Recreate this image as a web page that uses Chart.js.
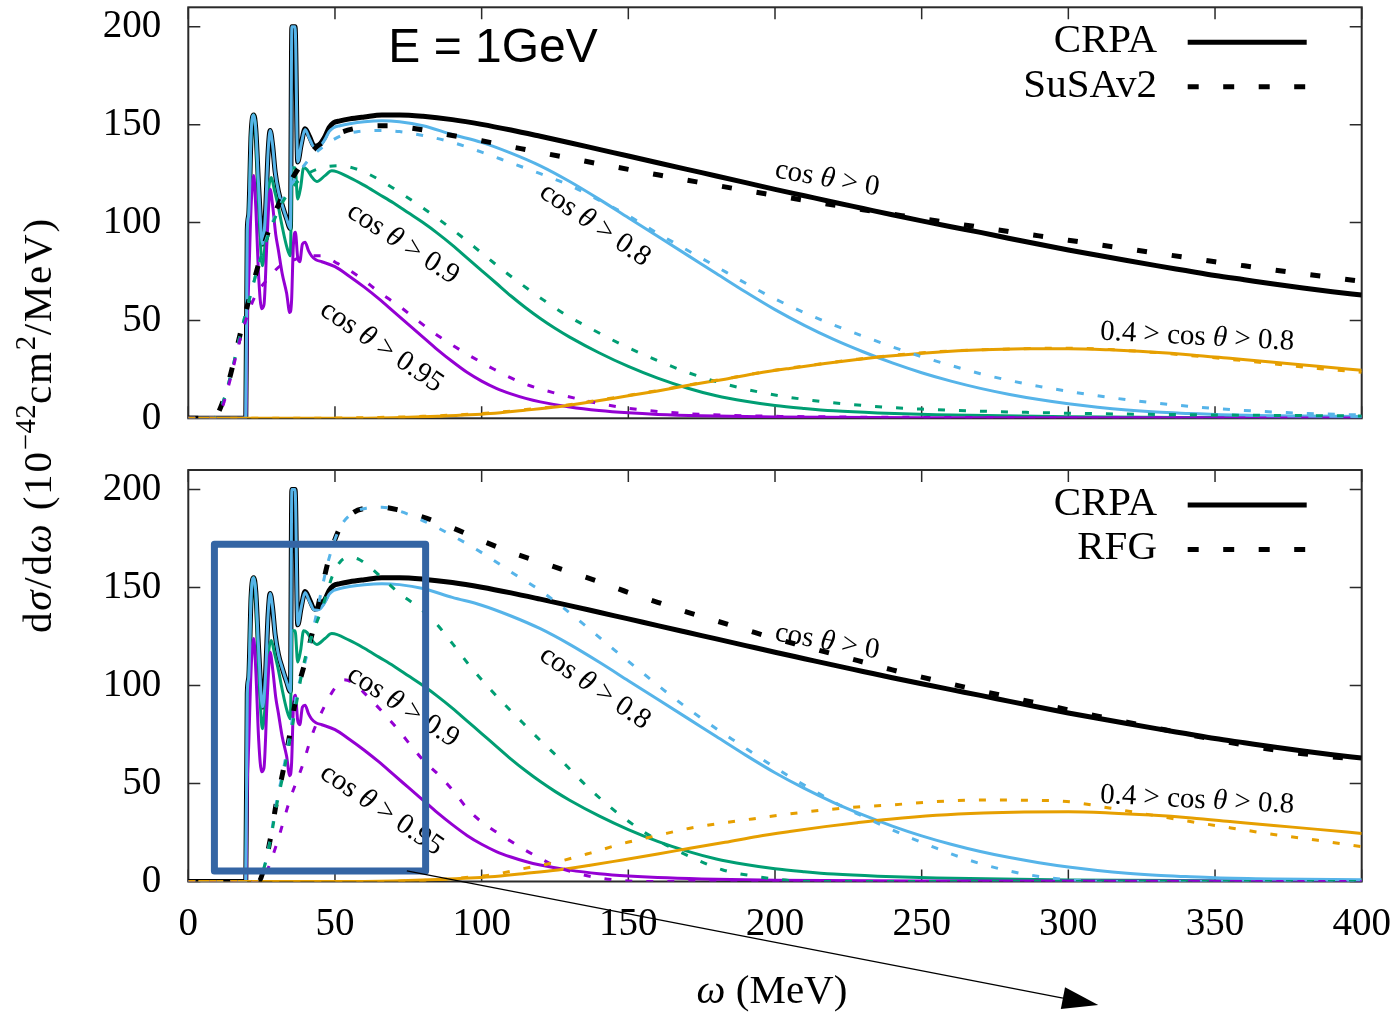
<!DOCTYPE html>
<html>
<head>
<meta charset="utf-8">
<script src="https://cdn.jsdelivr.net/npm/chart.js@4.4.1/dist/chart.umd.min.js"></script>
<style>
  html, body { margin: 0; padding: 0; background: #fff; }
  #wrap { position: relative; width: 1396px; height: 1016px; overflow: hidden; background: #fff; }
  #wrap canvas { position: absolute; left: 0; top: 0; }
  #ytitle {
    position: absolute; left: 37px; top: 425px;
    transform: translate(-50%, -50%) rotate(-90deg);
    font: 41px "Liberation Serif", serif; letter-spacing: 1.8px; color: #000; white-space: nowrap;
  }
  #ytitle sup { font-size: 0.7em; vertical-align: 0.55em; line-height: 0; letter-spacing: 0.5px; }
</style>
</head>
<body>
<div id="wrap">
  <canvas id="upper" width="1396" height="1016"></canvas>
  <canvas id="lower" width="1396" height="1016"></canvas>
  <div id="ytitle">d<i>σ</i>/d<i>ω</i> (10<sup>−42</sup>cm<sup>2</sup>/MeV)</div>
</div>
<script>
// ---- axis ticks ----
const xTickValues = [0, 50, 100, 150, 200, 250, 300, 350, 400];
const yTickValues = [0, 50, 100, 150, 200];

// ---- CRPA, [omega (MeV), dsigma/domega] ----
const crpaAll = [[0,0],[19.6,0],[20.1,96],[20.6,104],[21.4,145],[22.3,155],[23.0,148],[24.0,118],[25.3,89],[26.3,105],[27.2,136],[27.9,147],[28.7,140],[29.6,126],[30.7,116],[32.0,109],[33.5,102],[34.8,97],[35.3,200],[36.4,200],[37.3,131],[38.5,140],[39.8,148],[41.3,144],[43.0,139],[44.8,140],[46.6,144],[48.0,148.5],[49.5,151],[51.7,152],[55,153],[60,154],[66,155],[72,155],[80,154.3],[90,152.6],[100,150.2],[110,147.3],[120,144.1],[130,140.8],[140,137.4],[150,134],[160,130.6],[170,127.2],[180,123.8],[190,120.4],[200,117],[210,113.7],[220,110.4],[230,107.2],[240,104],[250,100.9],[260,97.9],[270,95],[280,91.9],[290,88.9],[300,86],[310,83.3],[320,80.6],[330,78],[340,75.5],[350,73],[360,70.8],[370,68.6],[380,66.6],[390,64.7],[400,63]];
const crpaC08 = [[0,0],[19.6,0],[20.1,96],[20.6,104],[21.4,145],[22.3,155],[23.0,148],[24.0,118],[25.3,89],[26.3,105],[27.2,136],[27.9,147],[28.7,140],[29.6,126],[30.7,116],[32.0,109],[33.5,102],[34.8,97],[35.3,200],[36.4,200],[37.3,131],[38.5,140],[39.8,147.5],[41.3,143],[43.0,138.5],[44.8,139],[46.6,142.5],[48.0,146.5],[49.5,148.5],[51.7,149.5],[55,150.5],[60,151.5],[66,152],[72,151.5],[80,149.5],[90,145],[100,141],[110,135.5],[120,129],[130,121],[140,112],[150,102.5],[160,93],[170,83.5],[180,74],[190,64.5],[200,55.5],[210,47.5],[220,40.3],[230,34],[240,28.3],[250,23.3],[260,19],[270,15.3],[280,12.2],[290,9.6],[300,7.4],[310,5.6],[320,4.2],[330,3.2],[340,2.5],[350,1.9],[370,1.3],[400,0.9]];
const crpaC09 = [[0,0],[19.6,0],[20.1,96],[20.6,104],[21.4,145],[22.3,155],[23.0,146],[24.0,108],[25.3,78],[26.3,92],[27.3,116],[28.3,123],[29.3,117],[30.7,108],[32.0,98],[33.5,88],[34.8,83],[35.3,128],[36.4,128],[37.3,112],[38.3,118],[39.3,128],[40.5,127],[42.0,123.5],[43.8,121],[46.6,124],[48.9,126.5],[55,123],[60,119],[65,114.5],[70,110],[75,105],[80,100],[85,94.5],[90,88.5],[95,82],[100,75.5],[105,69],[110,62.5],[115,56.5],[120,51],[125,46],[130,41.5],[140,33.5],[150,26.5],[160,20.5],[170,15.5],[180,11.5],[190,8.7],[200,6.5],[210,5],[220,3.8],[235,2.7],[255,1.8],[300,0.8],[350,0.4],[400,0.2]];
const crpaC095 = [[0,0],[19.6,0],[20.1,50],[20.6,70],[21.4,108],[22.3,124],[23.0,108],[24.0,72],[25.0,56],[25.8,58],[26.8,90],[27.9,117],[28.8,108],[29.8,94],[30.7,86],[32.0,74],[33.5,64],[34.6,54],[35.2,60],[35.8,88],[36.5,95],[37.3,82],[38.0,80],[38.9,89],[39.8,90],[41.0,85.5],[42.0,83],[43.5,81],[45.5,80],[50,77.5],[55,72.5],[60,67],[65,61],[70,54.5],[75,48],[80,41.5],[85,35],[90,29],[95,23.5],[100,19],[105,15.3],[110,12.5],[115,10.2],[120,8.4],[130,5.8],[140,4],[150,2.8],[160,2],[175,1.3],[200,0.7],[250,0.3],[400,0.1]];
const crpaMid = [[0,0],[50,0],[70,0.3],[85,1],[103,2.4],[114,4],[126,5.9],[137,8.3],[148,11],[160,14],[171,17],[183,20],[194,23],[205,25.5],[217,28],[228,30],[239,31.8],[255,33.8],[271,35],[285,35.5],[300,35.6],[314,35],[328,33.9],[342,32.4],[356,30.5],[370,28.6],[385,26.6],[400,24.5]];

// ---- SuSAv2 ----
const susaAll = [[0,0],[8.5,0],[11.4,7],[14.8,24.7],[17.6,42.5],[20.5,59.6],[23.7,77.5],[27.4,96],[31.3,111],[37.6,127.7],[42,136],[46.6,142],[51,145.5],[56.5,148],[62,149.3],[68.8,149.5],[75,148.5],[81.4,147],[90,144.5],[100,141.8],[110,138.8],[120,135.8],[130,132.9],[140,130],[150,127.2],[160,124.4],[170,121.7],[180,119],[190,116.4],[200,113.9],[210,111.4],[220,109],[230,106.6],[240,104.3],[250,102],[260,99.8],[270,97.6],[280,95.4],[290,93.2],[300,91],[310,88.8],[320,86.6],[330,84.4],[340,82.2],[350,80],[360,77.9],[370,75.8],[380,73.8],[390,71.9],[400,70]];
const susaC08 = [[0,0],[8.5,0],[11.4,6.5],[14.8,24],[17.6,42],[20.5,59],[23.7,77],[27.4,95],[31.3,109],[37.6,125],[40.4,131],[46.6,139.5],[52.3,144.5],[58,146.5],[65,147],[72,146.5],[80,144.5],[90,141],[100,136],[110,130.5],[120,125],[130,119],[140,111.5],[150,103.5],[160,94.5],[170,86],[180,77.5],[190,69],[200,61],[210,54],[220,47.7],[230,42],[240,36.5],[250,31.5],[260,27],[270,22.8],[280,19.3],[290,16.3],[300,13.8],[310,11.5],[320,9.5],[330,7.8],[340,6.3],[350,5],[360,4],[370,3.2],[385,2.3],[400,1.7]];
const susaC09 = [[0,0],[8.5,0],[11.4,6.5],[14.8,24],[17.6,42],[20.5,59],[23.7,77],[27.4,94],[31.3,108],[35,117],[39.7,124],[45.5,128],[51.7,129],[58,127],[65,122],[72,115.5],[79,108.5],[86,101],[93,93],[100,84.5],[107,76],[114,68],[121,60.5],[128,53.5],[137,46],[148,37.5],[160,29.5],[171,23],[183,17.5],[194,13.6],[205,10.7],[217,8.4],[233,6.2],[250,4.7],[271,3.6],[300,2.6],[350,1.7],[400,1.2]];
const susaC095 = [[0,0],[9,0],[11.4,5],[14.5,21],[17.6,40],[20.5,54],[23,63],[27.3,71.5],[31,77.5],[36,81],[41,83],[45.5,83],[51,79],[58.6,72],[65,64.5],[72.2,57],[79,49],[85.8,41.5],[92.6,35],[99.4,29],[103,26],[114,18],[125.7,12.6],[137,8.5],[148,5.5],[160,3.5],[171,2.3],[190,1.3],[220,0.7],[270,0.4],[400,0.1]];
const susaMid = [[0,0],[40,0],[60,0.3],[80,1],[103,2.8],[114,4.3],[126,6.2],[137,8.6],[148,11.2],[160,14.2],[171,17.2],[183,20.2],[194,23.1],[205,25.7],[217,28.1],[228,30.2],[239,32],[255,34],[271,35],[285,35.6],[300,35.8],[314,35.1],[328,33.8],[342,32],[356,30],[370,27.8],[385,25.5],[400,23.5]];

// ---- RFG ----
const rfgAll = [[0,0],[24,0],[26,8],[28,22],[30,40],[32.4,57],[34.7,76],[37,96],[39.8,112],[42.6,129],[44.9,145],[47.8,164],[51.5,180],[56,188],[61,190.6],[66,191],[72,189.5],[80,186],[90,180.5],[100,174],[110,168],[120,163],[130,158],[140,153],[150,147.5],[160,142.5],[170,137.5],[180,133],[190,128.5],[200,124],[210,120],[220,116],[230,112],[240,108],[250,104.3],[260,100.8],[270,97.4],[280,94.1],[290,90.8],[300,87.6],[310,84.4],[320,81.3],[330,78.3],[340,75.3],[350,72.4],[360,69.6],[370,67.2],[380,65.2],[390,63.6],[400,62.3]];
const rfgC08 = [[0,0],[24,0],[26,8],[28,22],[30,40],[32.4,57],[34.7,76],[37,96],[39.8,112],[42.6,129],[44.9,145],[47.8,164],[51.5,180],[56,188],[61,190.6],[66,191],[72,189],[78,185.5],[85,180.5],[90,176.5],[96,171.5],[103,165],[110,158],[120,148.5],[128,139.5],[137,128.5],[145,118.5],[154,107.5],[162,97.8],[171,87.5],[180,78],[188,70],[196,62],[205,53.5],[214,45.7],[222,39],[231,32.5],[239,27],[247,21.8],[255,17],[263,12.5],[271,8.7],[280,5.3],[290,2.6],[300,0.9],[310,0.1],[320,0],[400,0]];
const rfgC09 = [[0,0],[24,0],[26,8],[28,21],[30,38],[32.4,55],[34.7,73],[37,92],[39.2,110],[42,125],[45.5,139],[49.4,157],[52,163.5],[55,165.5],[58,164.5],[61,161.5],[66,155],[72,147],[78,140.5],[84,132.5],[90,121.5],[96,110],[103,98],[110,87],[114,81],[120,72],[126,63.5],[137,47],[148,33],[160,21],[171,12.7],[182,6],[194,2.5],[205,0.5],[215,0],[400,0]];
const rfgC095 = [[0,0],[25,0],[27,6],[30.2,19.5],[34.6,41.6],[39.2,60.4],[42,74],[46.6,90],[50.6,100],[53,103],[56,101.5],[60.8,95],[66.5,86],[71.6,77.4],[76.2,68.8],[80,62],[86,53.5],[91,45],[95.5,36.5],[100.6,29.7],[105.7,24.6],[112,18.6],[118.8,12.7],[125.6,7.6],[132.4,4.2],[140,1.8],[148,0.5],[155,0],[400,0]];
const rfgMid = [[0,0],[60,0],[80,0.5],[90,1.5],[103,3.3],[114,6.5],[125.7,10],[137,14.5],[148.4,19.5],[160,23.5],[171,27.2],[183,30],[194,32.3],[205,34.5],[216.6,36.5],[228,38],[239,39],[255,40.8],[271,41.6],[285,41.5],[299.5,40.8],[314,37.5],[328,34],[342,30.5],[356,27.2],[370,24],[385,21],[400,17.8]];

// ---- styling ----
const SERIF = "'Liberation Serif', 'Times New Roman', serif";
const SANS = "'Liberation Sans', Arial, sans-serif";
const COL = { all: '#000000', c08: '#56b4e9', c09: '#009e73', c095: '#9400d3', mid: '#e69f00' };

// curve annotations, positioned in data units (omega, value)
const curveLabels = [
  { parts: [['cos ', false], ['θ', true], [' > 0', false]], w: 217.8, v: 122.3, angle: 10 },
  { parts: [['cos ', false], ['θ', true], [' > 0.8', false]], w: 138.6, v: 98.8, angle: 34 },
  { parts: [['cos ', false], ['θ', true], [' > 0.9', false]], w: 73.2, v: 89.2, angle: 33 },
  { parts: [['cos ', false], ['θ', true], [' > 0.95', false]], w: 65.9, v: 36.5, angle: 34 },
  { parts: [['0.4 > cos ', false], ['θ', true], [' > 0.8', false]], w: 343.9, v: 41.5, angle: 3 }
];

function toPoints(arr) { return arr.map(([w, v]) => ({ x: w, y: v })); }

function series(arr, color, width, dash) {
  return {
    data: toPoints(arr),
    borderColor: color,
    borderWidth: width,
    borderDash: dash || [],
    borderCapStyle: 'butt',
    borderJoinStyle: dash ? 'miter' : 'round',
    pointRadius: 0,
    fill: false,
    tension: 0.3,
    cubicInterpolationMode: 'monotone'
  };
}

function buildDatasets(m) {
  const sets = [
    series(crpaAll, COL.all, 5),
    series(crpaC09, COL.c09, 3),
    series(crpaC095, COL.c095, 3),
    series(crpaC08, COL.c08, 3),
    series(crpaMid, COL.mid, 3),
    series(m.all, COL.all, 5, [10, 25]),
    series(m.c08, COL.c08, 3, [7, 14]),
    series(m.c09, COL.c09, 3, [7, 14]),
    series(m.c095, COL.c095, 3, [7, 14]),
    series(m.mid, COL.mid, 3, [7, 14])
  ];
  // later entries are painted on top
  sets.forEach((s, i) => { s.order = sets.length - i; });
  return sets;
}

function drawRich(ctx, parts, cx, cy, angleDeg, size) {
  ctx.save();
  ctx.translate(cx, cy);
  ctx.rotate(angleDeg * Math.PI / 180);
  const fontOf = (it) => (it ? 'italic ' : '') + size + 'px ' + SERIF;
  const widths = parts.map(([t, it]) => { ctx.font = fontOf(it); return ctx.measureText(t).width; });
  let x = -widths.reduce((a, b) => a + b, 0) / 2;
  ctx.fillStyle = '#000';
  ctx.textBaseline = 'middle';
  ctx.textAlign = 'left';
  parts.forEach(([t, it], i) => { ctx.font = fontOf(it); ctx.fillText(t, x, 0); x += widths[i]; });
  ctx.restore();
}

const panelDecor = {
  id: 'panelDecor',
  beforeDatasetsDraw(chart, args, opts) {
    const { ctx, chartArea: a, scales: { x, y } } = chart;
    ctx.save();
    ctx.strokeStyle = '#2a2a2a';
    ctx.lineWidth = 1.5;
    ctx.beginPath();
    xTickValues.forEach(v => {
      const px = x.getPixelForValue(v);
      ctx.moveTo(px, a.bottom); ctx.lineTo(px, a.bottom - 12);
      ctx.moveTo(px, a.top); ctx.lineTo(px, a.top + 12);
    });
    yTickValues.forEach(v => {
      const py = y.getPixelForValue(v);
      ctx.moveTo(a.left, py); ctx.lineTo(a.left + 12, py);
      ctx.moveTo(a.right, py); ctx.lineTo(a.right - 12, py);
    });
    ctx.stroke();
    ctx.lineWidth = 2;
    ctx.strokeRect(a.left, a.top, a.right - a.left, a.bottom - a.top);
    ctx.restore();
  },
  afterDatasetsDraw(chart, args, opts) {
    const { ctx, chartArea: a, scales: { x, y } } = chart;
    // curve labels
    curveLabels.forEach(l => drawRich(ctx, l.parts, x.getPixelForValue(l.w), y.getPixelForValue(l.v), l.angle, 29));
    // key
    ctx.save();
    ctx.fillStyle = '#000';
    ctx.font = '41px ' + SERIF;
    ctx.textAlign = 'right';
    ctx.textBaseline = 'middle';
    const tx = a.right - 204.7, lx0 = a.right - 174, lx1 = a.right - 55;
    const y0 = a.top + 35, y1 = a.top + 79.5;
    ctx.fillText(opts.keys[0], tx, y0 - 1);
    ctx.fillText(opts.keys[1], tx, y1 - 1);
    ctx.strokeStyle = '#000';
    ctx.lineWidth = 5;
    ctx.beginPath(); ctx.moveTo(lx0, y0); ctx.lineTo(lx1, y0); ctx.stroke();
    ctx.setLineDash([11, 24.5]);
    ctx.beginPath(); ctx.moveTo(lx0, y1); ctx.lineTo(lx1, y1); ctx.stroke();
    ctx.setLineDash([]);
    if (opts.heading) {
      ctx.font = '48px ' + SANS;
      ctx.textAlign = 'left';
      ctx.textBaseline = 'alphabetic';
      ctx.fillText(opts.heading, a.left + 200, a.top + 55);
    }
    if (opts.xTitle) {
      const cx = (a.left + a.right) / 2 - 3, cy = a.bottom + 111;
      drawRich(ctx, [['ω', true], [' (MeV)', false]], cx, cy, 0, 41);
    }
    ctx.restore();
  },
  afterDraw(chart, args, opts) {
    if (!opts.focus) return;
    const { ctx, scales: { x, y } } = chart;
    const f = opts.focus;
    ctx.save();
    // highlighted low-omega window
    const l = x.getPixelForValue(f.w0), r = x.getPixelForValue(f.w1);
    const t = y.getPixelForValue(f.v1), b = y.getPixelForValue(f.v0);
    ctx.strokeStyle = '#3465a4';
    ctx.lineWidth = 7;
    ctx.lineJoin = 'round';
    ctx.strokeRect(l, t, r - l, b - t);
    // pointer arrow
    const sx = x.getPixelForValue(f.from[0]), sy = y.getPixelForValue(f.from[1]);
    const ex = x.getPixelForValue(f.to[0]), ey = y.getPixelForValue(f.to[1]);
    const ang = Math.atan2(ey - sy, ex - sx);
    const hl = 36, hw = 11;
    const bx = ex - hl * Math.cos(ang), by = ey - hl * Math.sin(ang);
    ctx.strokeStyle = '#000';
    ctx.lineWidth = 1.3;
    ctx.beginPath(); ctx.moveTo(sx, sy); ctx.lineTo(bx, by); ctx.stroke();
    ctx.fillStyle = '#000';
    ctx.beginPath();
    ctx.moveTo(ex, ey);
    ctx.lineTo(bx + hw * Math.sin(ang), by - hw * Math.cos(ang));
    ctx.lineTo(bx - hw * Math.sin(ang), by + hw * Math.cos(ang));
    ctx.closePath();
    ctx.fill();
    ctx.restore();
  }
};

function panelOptions(cfg) {
  const tickFont = { family: SERIF, size: 39 };
  const zeroPad = (s) => { s.paddingTop = 0; s.paddingBottom = 0; s.paddingLeft = 0; s.paddingRight = 0; };
  return {
    responsive: false,
    animation: false,
    devicePixelRatio: 1,
    events: [],
    layout: { padding: { top: cfg.top, right: 34.3, bottom: cfg.bottom, left: 0 } },
    plugins: { legend: { display: false }, tooltip: { enabled: false }, panelDecor: cfg.decor },
    scales: {
      x: {
        type: 'linear', min: 0, max: 400, display: cfg.showX,
        afterBuildTicks: s => { s.ticks = xTickValues.map(v => ({ value: v })); },
        afterFit: s => { s.height = cfg.xHeight; zeroPad(s); },
        grid: { display: false, drawTicks: false },
        border: { display: false },
        ticks: { font: tickFont, color: '#000', padding: 20, maxRotation: 0, autoSkip: false }
      },
      y: {
        type: 'linear', min: 0, max: 210,
        afterBuildTicks: s => { s.ticks = yTickValues.map(v => ({ value: v })); },
        afterFit: s => { s.width = 188.3; zeroPad(s); },
        grid: { display: false, drawTicks: false },
        border: { display: false },
        ticks: { font: tickFont, color: '#000', padding: 27 }
      }
    }
  };
}

Chart.register(panelDecor);

new Chart(document.getElementById('upper'), {
  type: 'line',
  data: { datasets: buildDatasets({ all: susaAll, c08: susaC08, c09: susaC09, c095: susaC095, mid: susaMid }) },
  options: panelOptions({
    top: 7.3, bottom: 1016 - 418.3, showX: false, xHeight: 0,
    decor: { keys: ['CRPA', 'SuSAv2'], heading: 'E = 1GeV', xTitle: false, focus: null }
  })
});

new Chart(document.getElementById('lower'), {
  type: 'line',
  data: { datasets: buildDatasets({ all: rfgAll, c08: rfgC08, c09: rfgC09, c095: rfgC095, mid: rfgMid }) },
  options: panelOptions({
    top: 470, bottom: 0, showX: true, xHeight: 1016 - 881.5,
    decor: {
      keys: ['CRPA', 'RFG'], heading: null, xTitle: true,
      focus: { w0: 8.9, w1: 80.9, v0: 5.4, v1: 172.1, from: [74.5, 5.4], to: [310.2, -63] }
    }
  })
});
</script>
</body>
</html>
